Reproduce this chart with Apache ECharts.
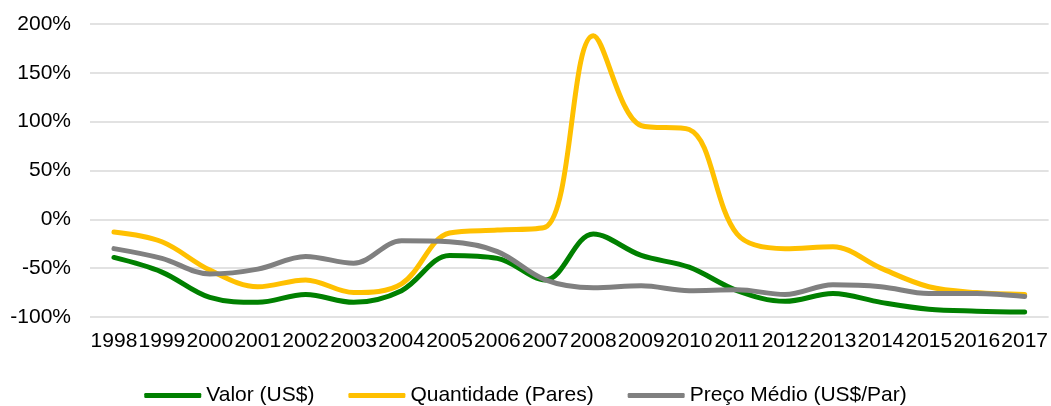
<!DOCTYPE html>
<html>
<head>
<meta charset="utf-8">
<script src="https://cdn.jsdelivr.net/npm/echarts@6/dist/echarts.min.js"></script>
<style>
  html, body { margin: 0; padding: 0; background: #fff; }
  #chart { width: 1051px; height: 406px; }
</style>
</head>
<body>
<div id="chart"></div>
<script>
// anos
const years = ['1998','1999','2000','2001','2002','2003','2004','2005','2006','2007',
               '2008','2009','2010','2011','2012','2013','2014','2015','2016','2017'];
// variação (%)
const valor = [-39, -54, -80, -85, -77, -85, -73, -37, -40, -62,
               -15, -37, -49, -73, -84, -76, -85, -92, -94, -95];
const quantidade = [-13, -23, -52, -69, -62, -75, -66, -14, -11, -8,
                    188, 96, 92, -15, -30, -28, -50, -69, -75, -77];
const precoMedio = [-30, -40, -56, -51, -38, -45, -22, -23, -33, -62,
                    -70, -68, -73, -72, -77, -67, -69, -76, -76, -79];
const yTicks = { min: -100, max: 200, step: 50 };

const chart = echarts.init(document.getElementById('chart'));
const font = 'Liberation Sans, Arial, sans-serif';

function lineSeries(name, data, color) {
  return {
    name: name,
    type: 'line',
    data: data,
    smooth: 0.35,
    symbol: 'none',
    lineStyle: { width: 5, color: color, cap: 'round' },
    itemStyle: { color: color }
  };
}

const option = {
  animation: false,
  grid: { left: 90, right: 1, top: 24, bottom: 89 },
  legend: {
    top: 385,
    left: 'center',
    padding: 0,
    itemWidth: 57,
    itemHeight: 5,
    itemGap: 34,
    icon: 'roundRect',
    textStyle: { fontFamily: font, fontSize: 21, color: '#000' },
    data: ['Valor (US$)', 'Quantidade (Pares)', 'Preço Médio (US$/Par)']
  },
  xAxis: {
    type: 'category',
    data: years,
    boundaryGap: true,
    axisLine: { show: false },
    axisTick: { show: false },
    axisLabel: { interval: 0, margin: 14, fontFamily: font, fontSize: 21, color: '#000', hideOverlap: false }
  },
  yAxis: {
    type: 'value',
    min: yTicks.min,
    max: yTicks.max,
    interval: yTicks.step,
    axisLine: { show: false },
    axisTick: { show: false },
    axisLabel: { formatter: '{value}%', margin: 19, fontFamily: font, fontSize: 21, color: '#000' },
    splitLine: { lineStyle: { color: '#d9d9d9', width: 1.5 } }
  },
  series: [
    lineSeries('Valor (US$)', valor, '#008000'),
    lineSeries('Quantidade (Pares)', quantidade, '#ffc000'),
    lineSeries('Preço Médio (US$/Par)', precoMedio, '#808080')
  ]
};
chart.setOption(option);
</script>
</body>
</html>
